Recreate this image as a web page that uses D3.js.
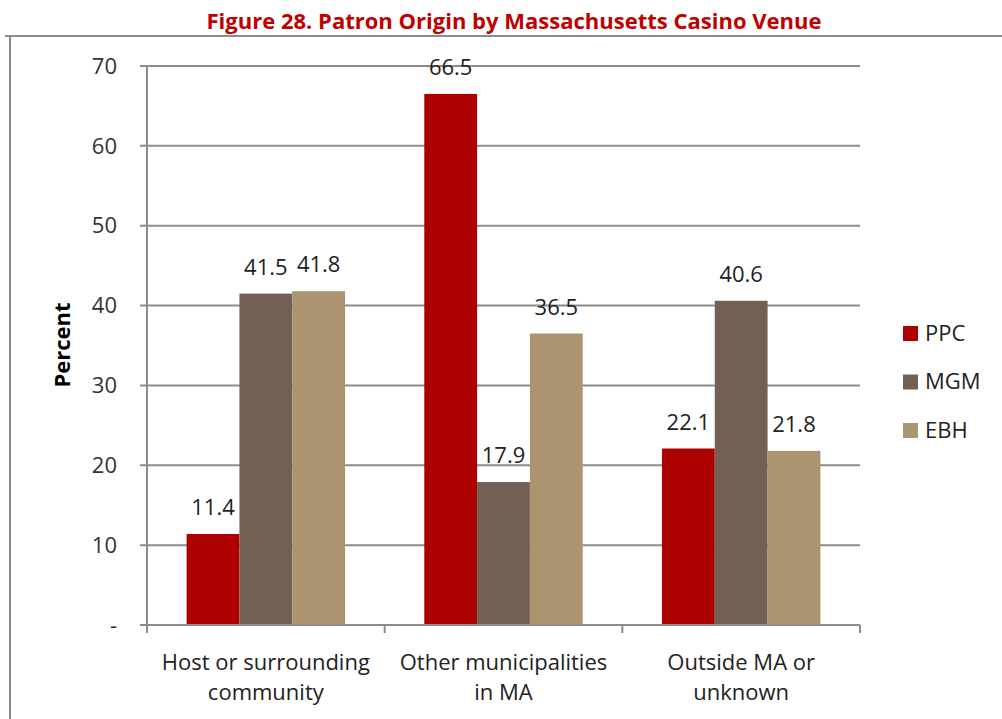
<!DOCTYPE html>
<html>
<head>
<meta charset="utf-8">
<script src="https://cdn.jsdelivr.net/npm/d3@7"></script>
<style>
  body { margin: 0; background: #fff; }
  svg text { font-family: "Open Sans", "Noto Sans", sans-serif; }
</style>
</head>
<body>
<script>
// data
const categories = [["Host or surrounding", "community"], ["Other municipalities", "in MA"], ["Outside MA or", "unknown"]];
const seriesNames = ["PPC", "MGM", "EBH"];
const ppc = [11.4, 66.5, 22.1];
const mgm = [41.5, 17.9, 40.6];
const ebh = [41.8, 36.5, 21.8];
const yTicks = [0, 10, 20, 30, 40, 50, 60, 70];

const colors = ["#AD0000", "#726054", "#AD9470"];
const series = [ppc, mgm, ebh];

const W = 1002, H = 719;
const fs = 22;
const svg = d3.select("body").append("svg")
    .attr("width", W)
    .attr("height", H);

// frame
svg.append("path")
    .attr("d", "M5,36 H1002 M10,36 V719")
    .attr("stroke", "#8c8c8c")
    .attr("stroke-width", 2)
    .attr("fill", "none");

// title
svg.append("text")
    .attr("x", 514)
    .attr("y", 29)
    .attr("text-anchor", "middle")
    .attr("font-size", 21)
    .attr("font-weight", "bold")
    .attr("fill", "#C00000")
    .attr("textLength", 615)
    .attr("lengthAdjust", "spacingAndGlyphs")
    .text("Figure 28. Patron Origin by Massachusetts Casino Venue");

const x0 = 147, x1 = 860, y0 = 625, y1 = 66;

const x = d3.scaleBand()
    .domain(d3.range(categories.length))
    .range([x0, x1])
    .paddingInner(0)
    .paddingOuter(0);

// each category: 3 bars + gap of 150%
const bw = x.bandwidth() / 4.5;
const xs = d3.scaleBand()
    .domain(d3.range(seriesNames.length))
    .range([bw * 0.75, bw * 3.75]);

const y = d3.scaleLinear()
    .domain([0, 70])
    .range([y0, y1]);

// gridlines
svg.append("g")
    .selectAll("line")
    .data(yTicks)
    .join("line")
    .attr("x1", x0 - 7)
    .attr("x2", x1)
    .attr("y1", d => y(d))
    .attr("y2", d => y(d))
    .attr("stroke", "#8c8c8c")
    .attr("stroke-width", 2);

// y axis labels
svg.append("g")
    .selectAll("text")
    .data(yTicks)
    .join("text")
    .attr("x", 117)
    .attr("y", d => y(d))
    .attr("dy", "0.35em")
    .attr("text-anchor", "end")
    .attr("font-size", fs)
    .attr("fill", "#333")
    .text(d => d === 0 ? "-" : d);

// bars
const groups = svg.append("g")
    .selectAll("g")
    .data(series)
    .join("g")
    .attr("fill", (d, i) => colors[i]);

groups.each(function (vals, si) {
    const g = d3.select(this);
    g.selectAll("rect")
        .data(vals)
        .join("rect")
        .attr("x", (d, ci) => x(ci) + xs(si))
        .attr("width", xs.bandwidth())
        .attr("y", d => y(d))
        .attr("height", d => y0 - y(d));

    g.selectAll("text")
        .data(vals)
        .join("text")
        .attr("x", (d, ci) => x(ci) + xs(si) + xs.bandwidth() / 2)
        .attr("y", d => y(d) - 19)
        .attr("text-anchor", "middle")
        .attr("font-size", fs)
        .attr("fill", "#222")
        .text(d => d.toFixed(1));
});

// y axis line and x axis
svg.append("line")
    .attr("x1", x0).attr("x2", x0)
    .attr("y1", y1).attr("y2", y0 + 8)
    .attr("stroke", "#8c8c8c").attr("stroke-width", 2);

svg.append("line")
    .attr("x1", x0 - 7).attr("x2", x1)
    .attr("y1", y0).attr("y2", y0)
    .attr("stroke", "#8c8c8c").attr("stroke-width", 2);

svg.append("g")
    .selectAll("line")
    .data(d3.range(categories.length + 1))
    .join("line")
    .attr("x1", d => x0 + d * x.bandwidth())
    .attr("x2", d => x0 + d * x.bandwidth())
    .attr("y1", y0)
    .attr("y2", y0 + 8)
    .attr("stroke", "#8c8c8c").attr("stroke-width", 2);

// category labels
svg.append("g")
    .selectAll("text")
    .data(categories)
    .join("text")
    .attr("x", (d, i) => x(i) + x.bandwidth() / 2)
    .attr("y", 670)
    .attr("text-anchor", "middle")
    .attr("font-size", fs)
    .attr("fill", "#222")
    .each(function (d) {
        const t = d3.select(this);
        d.forEach((line, k) => {
            t.append("tspan")
                .attr("x", t.attr("x"))
                .attr("dy", k === 0 ? 0 : 30)
                .text(line);
        });
    });

// y title
svg.append("text")
    .attr("transform", "translate(70,345) rotate(-90)")
    .attr("text-anchor", "middle")
    .attr("font-size", 22)
    .attr("font-weight", "bold")
    .attr("fill", "#000")
    .text("Percent");

// legend
const legend = svg.append("g")
    .selectAll("g")
    .data(seriesNames)
    .join("g")
    .attr("transform", (d, i) => "translate(903," + (333 + i * 48.5) + ")");

legend.append("rect")
    .attr("x", 0)
    .attr("y", -7)
    .attr("width", 15)
    .attr("height", 15)
    .attr("fill", (d, i) => colors[i]);

legend.append("text")
    .attr("x", 22)
    .attr("dy", "0.35em")
    .attr("font-size", fs)
    .attr("fill", "#222")
    .text(d => d);
</script>
</body>
</html>
